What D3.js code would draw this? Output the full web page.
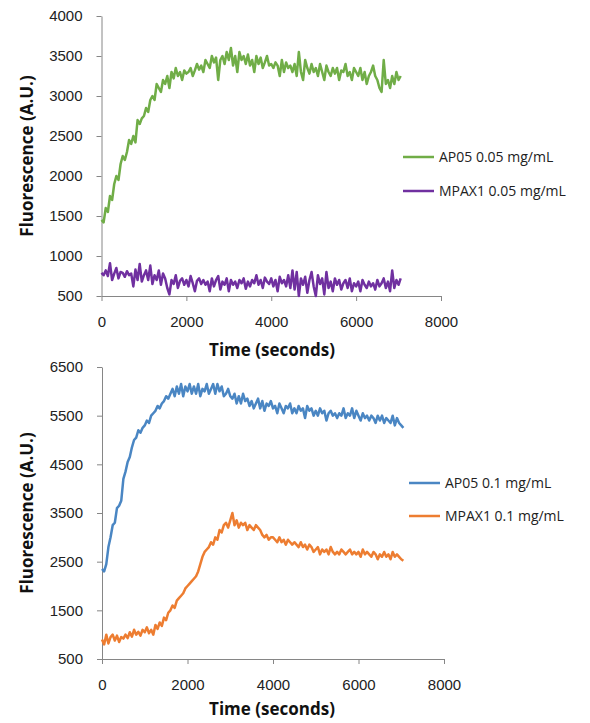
<!DOCTYPE html>
<html lang="en">
  <head>
    <meta charset="UTF-8">
    <title>Fluorescence</title>
    <style>
      body { margin: 0; background: #fff; }
      svg { display: block; font-family: "Open Sans", sans-serif; }
      .axis path, .axis line { stroke: #868686; }
      .axis text { font-size: 15px; fill: #222; }
      .title { font-size: 17px; font-weight: bold; fill: #111; }
      .legend text { font-size: 14px; fill: #222; }
    </style>
  </head>
  <body>
    <svg id="chart" width="590" height="723"></svg>
    <script src="https://d3js.org/d3.v7.min.js"></script>
    <script>
    // sampling times, every 50 s from 0 to 7050 s
    var time = d3.range(0, 7051, 50);

    var xTicks = [0, 2000, 4000, 6000, 8000];
    var yTicksTop = [500, 1000, 1500, 2000, 2500, 3000, 3500, 4000];
    var yTicksBottom = [500, 1500, 2500, 3500, 4500, 5500, 6500];

    var ap05_005 = [
      1450, 1420, 1600, 1550, 1750, 1700, 1900, 2000, 1950, 2150,
      2250, 2200, 2300, 2450, 2400, 2500, 2420, 2700, 2650, 2720,
      2750, 2850, 2800, 2950, 3000, 2950, 3150, 3100, 3050, 3200,
      3150, 3250, 3100, 3300, 3220, 3350, 3250, 3300, 3200, 3320,
      3280, 3300, 3350, 3250, 3320, 3400, 3330, 3380, 3300, 3450,
      3400, 3350, 3500, 3420, 3480, 3200, 3450, 3500, 3400, 3550,
      3450, 3600, 3380, 3500, 3300, 3550, 3450, 3500, 3400, 3520,
      3380, 3450, 3300, 3500, 3400, 3480, 3350, 3420, 3500, 3380,
      3400, 3350, 3420, 3380, 3250, 3450, 3300, 3420, 3350, 3380,
      3300, 3400, 3250, 3550, 3300, 3200, 3450, 3350, 3280, 3400,
      3300, 3350, 3250, 3400, 3300, 3200, 3380, 3300, 3250, 3350,
      3280, 3350, 3200, 3320, 3300, 3400, 3250, 3300, 3200, 3350,
      3300, 3250, 3350, 3200, 3300, 3150, 3250, 3300, 3380, 3250,
      3200, 3100, 3050, 3450, 3150, 3200, 3100, 3250, 3150, 3300,
      3200, 3250
    ];
    var mpax1_005 = [
      790, 760, 820, 750, 910, 700, 780, 850, 720, 800,
      790, 740, 810, 760, 780, 620, 830, 700, 900, 680,
      760, 820, 700, 880, 650, 760, 700, 820, 640, 780,
      720, 600, 520, 700, 650, 760, 600, 690, 720, 640,
      700, 620, 750, 660, 560, 690, 720, 650, 700, 640,
      680, 560, 720, 620, 700, 750, 580, 680, 640, 720,
      560, 700, 640, 680, 600, 700, 660, 720, 590, 680,
      620, 700, 660, 760, 640, 700, 600, 730, 680, 650,
      720, 620, 700, 560, 740, 660, 700, 620, 760, 600,
      820, 580, 800, 500, 720, 640, 740, 540, 700, 800,
      620, 500, 760, 650, 720, 520, 800, 600, 680, 560,
      720, 640, 700, 580, 660, 700, 600, 720, 560, 660,
      620, 680, 560, 700, 640, 600, 680, 620, 660, 580,
      700, 620, 660, 720, 600, 680, 560, 820, 600, 700,
      640, 720
    ];
    var ap05_01 = [
      2350, 2300, 2450, 2800, 3000, 3250, 3300, 3600, 3650, 3750,
      4200, 4350, 4550, 4650, 4850, 5000, 5050, 5200, 5150, 5250,
      5300, 5400, 5350, 5500, 5550, 5600, 5700, 5650, 5750, 5800,
      5900, 5850, 5950, 6050, 5900, 6100, 5950, 6150, 5900, 6100,
      6000, 6150, 5950, 6100, 5950, 6150, 5900, 6050, 6000, 6150,
      5950, 6050, 6150, 5950, 6150, 6000, 6100, 5900, 5950, 6050,
      5900, 5850, 5950, 5750, 5900, 5750, 5950, 5800, 5850, 5700,
      5800, 5650, 5750, 5850, 5650, 5800, 5600, 5750, 5700, 5800,
      5650, 5700, 5550, 5750, 5650, 5550, 5700, 5650, 5750, 5550,
      5650, 5550, 5700, 5600, 5650, 5450, 5700, 5600, 5650, 5500,
      5600, 5500, 5650, 5550, 5600, 5400, 5550, 5600, 5500, 5550,
      5450, 5550, 5500, 5650, 5450, 5550, 5500, 5650, 5450, 5600,
      5500, 5400, 5550, 5450, 5500, 5400, 5500, 5450, 5350, 5500,
      5400, 5500, 5350, 5450, 5400, 5350, 5500, 5300, 5450, 5350,
      5300, 5250
    ];
    var mpax1_01 = [
      900, 800, 1000, 820, 950, 1000, 880, 980, 850, 950,
      920, 1000, 930, 1050, 960, 1100, 1000, 1060, 980, 1100,
      1050, 1150, 1030, 1100, 1000, 1200, 1120, 1250, 1180, 1350,
      1300, 1450, 1500, 1600, 1550, 1700, 1750, 1800, 1850, 1950,
      2000, 2050, 2100, 2150, 2200, 2300, 2450, 2600, 2700, 2750,
      2800, 2900, 2850, 3000, 2950, 3150, 3100, 3250, 3300, 3200,
      3350, 3500, 3250, 3350, 3200, 3300, 3250, 3300, 3150, 3250,
      3200, 3150, 3250, 3200, 3150, 3050, 3000, 3050, 2950, 3000,
      3000, 2950, 2900, 3000, 2900, 2950, 2850, 2950, 2900, 2850,
      2900, 2850, 2800, 2900, 2800, 2850, 2750, 2850, 2800, 2700,
      2750, 2800, 2650, 2750, 2700, 2750, 2650, 2800, 2700, 2650,
      2700, 2650, 2750, 2700, 2650, 2700, 2750, 2650, 2700, 2650,
      2700, 2600, 2750, 2650, 2700, 2650, 2600, 2700, 2650, 2550,
      2650, 2600, 2700, 2600, 2650, 2550, 2700, 2600, 2650, 2600,
      2550, 2520
    ];

    var svg = d3.select('#chart');

    function panel(o) {
      var x = d3.scaleLinear().domain([0, 8000]).range([o.left, o.right]);
      var y = d3.scaleLinear().domain(o.yDomain).range([o.bottom, o.top]);
      var g = svg.append('g');

      g.append('g').attr('class', 'axis')
        .attr('transform', 'translate(0,' + o.bottom + ')')
        .call(d3.axisBottom(x).tickValues(xTicks).tickFormat(d3.format('d'))
          .tickSize(5).tickSizeOuter(0).tickPadding(15));
      g.append('g').attr('class', 'axis')
        .attr('transform', 'translate(' + o.left + ',0)')
        .call(d3.axisLeft(y).tickValues(o.yTicks).tickFormat(d3.format('d'))
          .tickSize(5).tickSizeOuter(0).tickPadding(14));

      var line = d3.line().x(function (d, i) { return x(time[i]); }).y(function (d) { return y(d); });
      o.series.forEach(function (s) {
        g.append('path').datum(s.values)
          .attr('fill', 'none').attr('stroke', s.color)
          .attr('stroke-width', 2.5).attr('stroke-linejoin', 'round')
          .attr('d', line);
      });

      g.append('text').attr('class', 'title')
        .attr('text-anchor', 'middle')
        .attr('transform', 'translate(33,' + (o.top + o.bottom) / 2 + ') rotate(-90)')
        .text('Fluorescence (A.U.)');
      g.append('text').attr('class', 'title')
        .attr('text-anchor', 'middle')
        .attr('x', 272).attr('y', o.bottom + o.titleGap)
        .text('Time (seconds)');

      var lg = g.append('g').attr('class', 'legend');
      o.series.forEach(function (s, i) {
        var ly = o.legendY + i * o.legendGap;
        lg.append('line').attr('x1', o.legendX).attr('x2', o.legendX + 31)
          .attr('y1', ly).attr('y2', ly)
          .attr('stroke', s.color).attr('stroke-width', 2.5);
        lg.append('text').attr('x', o.legendX + 36).attr('y', ly + 5).text(s.name);
      });
    }

    panel({
      left: 101.5, right: 441, top: 16, bottom: 296, titleGap: 60,
      yDomain: [500, 4000], yTicks: yTicksTop,
      legendX: 403, legendY: 157, legendGap: 34,
      series: [
        { name: 'AP05 0.05 mg/mL', values: ap05_005, color: '#70ad47' },
        { name: 'MPAX1 0.05 mg/mL', values: mpax1_005, color: '#7030a0' }
      ]
    });

    panel({
      left: 102, right: 444, top: 367, bottom: 659, titleGap: 56,
      yDomain: [500, 6500], yTicks: yTicksBottom,
      legendX: 409, legendY: 483, legendGap: 33,
      series: [
        { name: 'AP05 0.1 mg/mL', values: ap05_01, color: '#4a86c3' },
        { name: 'MPAX1 0.1 mg/mL', values: mpax1_01, color: '#ed7d31' }
      ]
    });
    </script>
  </body>
</html>
